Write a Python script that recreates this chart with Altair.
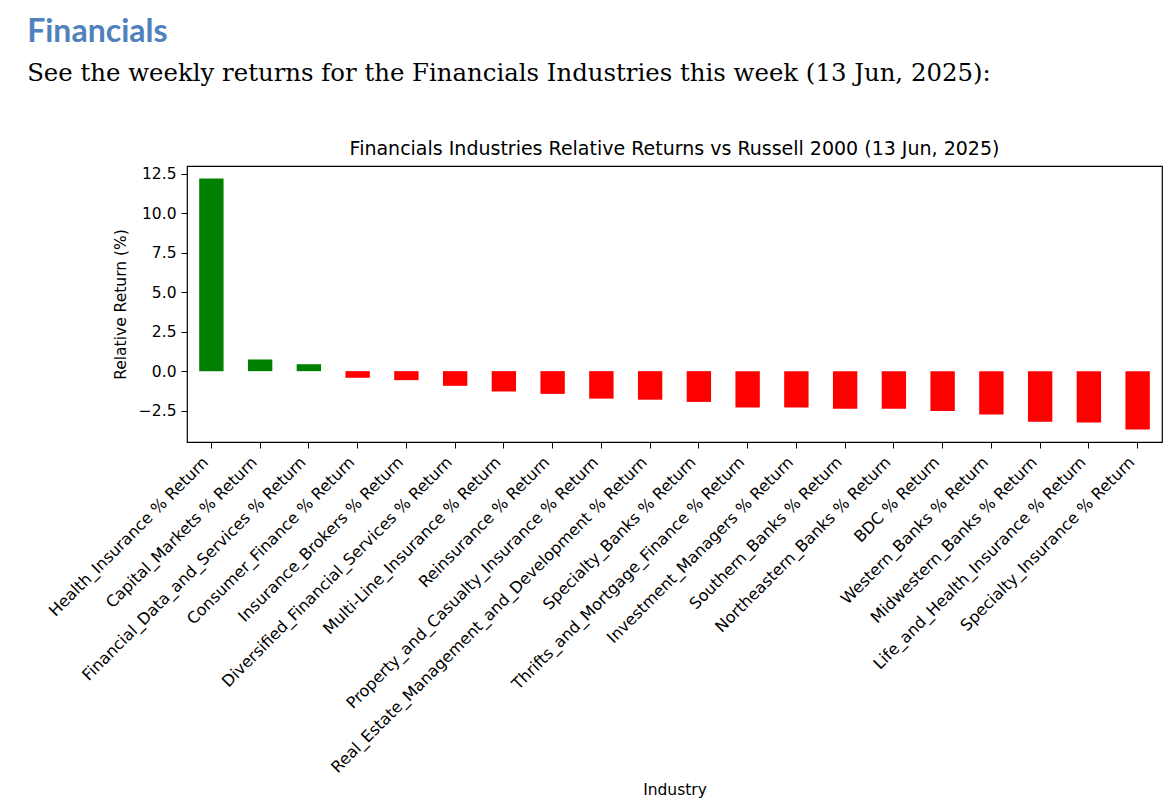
import altair as alt
import pandas as pd

industries = [
    "Health_Insurance % Return",
    "Capital_Markets % Return",
    "Financial_Data_and_Services % Return",
    "Consumer_Finance % Return",
    "Insurance_Brokers % Return",
    "Diversified_Financial_Services % Return",
    "Multi-Line_Insurance % Return",
    "Reinsurance % Return",
    "Property_and_Casualty_Insurance % Return",
    "Real_Estate_Management_and_Development % Return",
    "Specialty_Banks % Return",
    "Thrifts_and_Mortgage_Finance % Return",
    "Investment_Managers % Return",
    "Southern_Banks % Return",
    "Northeastern_Banks % Return",
    "BDC % Return",
    "Western_Banks % Return",
    "Midwestern_Banks % Return",
    "Life_and_Health_Insurance % Return",
    "Specialty_Insurance % Return",
]
returns = [12.21, 0.74, 0.44, -0.42, -0.57, -0.93, -1.29, -1.44, -1.74, -1.81,
           -1.95, -2.31, -2.31, -2.39, -2.39, -2.52, -2.75, -3.20, -3.26, -3.69]
y_ticks = [-2.5, 0.0, 2.5, 5.0, 7.5, 10.0, 12.5]

heading = "Financials"
intro = "See the weekly returns for the Financials Industries this week (13 Jun, 2025):"
plot_title = "Financials Industries Relative Returns vs Russell 2000 (13 Jun, 2025)"

df = pd.DataFrame({"Industry": industries, "Return": returns})

bars = alt.Chart(df).mark_bar().encode(
    x=alt.X(
        "Industry:N", sort=None, title="Industry",
        scale=alt.Scale(paddingInner=0.5, paddingOuter=0.25),
        axis=alt.Axis(labelAngle=315, labelAlign="right", labelBaseline="bottom",
                      labelPadding=17, titlePadding=140, labelLimit=0,
                      labelFontSize=16),
    ),
    y=alt.Y(
        "Return:Q", title="Relative Return (%)", stack=None,
        scale=alt.Scale(domain=[-4.49, 13.0], nice=False, zero=False),
        axis=alt.Axis(values=y_ticks, format=".1f", labelPadding=5, titlePadding=10),
    ),
    y2=alt.datum(0),
    color=alt.condition(alt.datum.Return > 0, alt.value("#008000"), alt.value("#ff0000")),
).properties(
    width=975, height=276,
    title=alt.TitleParams(text=plot_title, frame="group", anchor="middle",
                          font="DejaVu Sans", fontSize=19, fontWeight="normal",
                          color="black", offset=7),
)

chart = alt.vconcat(bars).properties(
    title=alt.TitleParams(
        text=heading, subtitle=intro, anchor="start", frame="bounds",
        font="Lato", fontSize=32, fontWeight="bold", color="#4F81BD",
        subtitleFont="DejaVu Serif", subtitleFontSize=24.4, subtitleColor="black",
        subtitlePadding=13, dx=-18, offset=53,
    ),
    padding={"left": 19, "top": 8, "right": 5, "bottom": 0},
    background="white",
).configure_view(
    stroke="black", strokeWidth=1.2
).configure_axis(
    domain=False, grid=False, tickColor="black", tickSize=6, tickWidth=1,
    labelFont="DejaVu Sans", labelFontSize=15.5, labelColor="black",
    titleFont="DejaVu Sans", titleFontSize=15.5, titleFontWeight="normal",
    titleColor="black",
)

chart.save("out.html", embed_options={"renderer": "svg", "actions": False})
